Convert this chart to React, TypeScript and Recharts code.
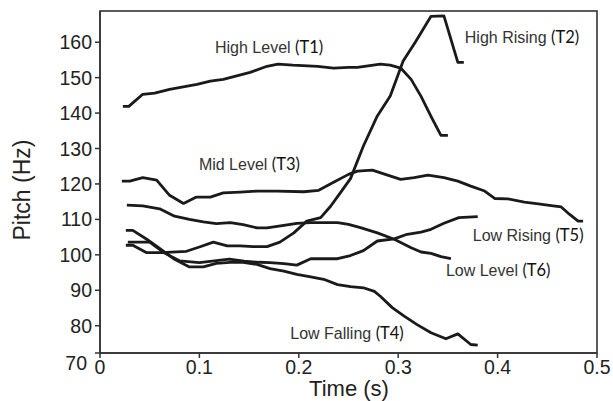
import { LineChart, Line, XAxis, YAxis, ReferenceDot, Label } from 'recharts';

// [time (s), pitch (Hz)]
const highLevelT1 = [
  [0.023, 141.9], [0.029, 141.9], [0.043, 145.3], [0.055, 145.6], [0.07, 146.7], [0.0975, 148.1],
  [0.111, 149.0], [0.124, 149.5], [0.151, 151.5], [0.168, 153.2], [0.179, 153.8], [0.194, 153.5],
  [0.219, 153.2], [0.235, 152.7], [0.25, 152.9], [0.259, 152.9], [0.282, 153.8], [0.292, 153.5],
  [0.3025, 152.7], [0.313, 149.5], [0.323, 144.7], [0.333, 139.1], [0.343, 133.7], [0.35, 133.7],
];

const highRisingT2 = [
  [0.026, 102.7], [0.033, 102.7], [0.047, 100.6], [0.062, 100.6], [0.087, 101.0], [0.1, 102.2],
  [0.114, 103.6], [0.128, 102.5], [0.141, 102.5], [0.154, 102.3], [0.168, 102.3], [0.181, 103.6],
  [0.195, 106.2], [0.208, 109.5], [0.222, 110.5], [0.232, 113.7], [0.241, 117.2], [0.252, 121.5],
  [0.265, 130.7], [0.279, 139.2], [0.292, 144.8], [0.305, 154.7], [0.317, 159.9], [0.333, 167.3],
  [0.346, 167.4], [0.36, 154.3], [0.366, 154.3],
];

const midLevelT3 = [
  [0.022, 120.8], [0.03, 120.8], [0.043, 121.8], [0.057, 121.1], [0.07, 116.8], [0.084, 114.5],
  [0.097, 116.3], [0.111, 116.3], [0.124, 117.5], [0.141, 117.7], [0.158, 118.0], [0.178, 118.0],
  [0.205, 117.8], [0.22, 118.2], [0.235, 120.5], [0.25, 122.7], [0.259, 123.6], [0.274, 123.9],
  [0.287, 122.7], [0.3025, 121.3], [0.316, 121.8], [0.33, 122.5], [0.346, 121.8], [0.36, 120.8],
  [0.373, 119.4], [0.387, 118.0], [0.397, 115.9], [0.41, 115.8], [0.427, 114.9], [0.441, 114.4],
  [0.454, 113.9], [0.464, 113.5], [0.4725, 111.4], [0.481, 109.5], [0.486, 109.5],
];

const lowFallingT4 = [
  [0.026, 106.9], [0.033, 106.9], [0.047, 104.4], [0.06, 101.8], [0.074, 98.9], [0.09, 96.6],
  [0.104, 96.6], [0.117, 97.6], [0.131, 97.9], [0.144, 97.9], [0.158, 97.3], [0.171, 96.1],
  [0.185, 95.4], [0.198, 94.5], [0.212, 93.8], [0.225, 93.1], [0.239, 91.6], [0.252, 91.0],
  [0.265, 90.7], [0.276, 89.7], [0.282, 88.3], [0.294, 85.1], [0.306, 82.7], [0.319, 80.3],
  [0.333, 78.0], [0.348, 76.3], [0.36, 77.7], [0.373, 74.7], [0.38, 74.5],
];

const lowRisingT5 = [
  [0.028, 103.6], [0.05, 103.6], [0.065, 100.5], [0.08, 98.3], [0.1, 97.8], [0.115, 98.3],
  [0.13, 98.8], [0.145, 98.2], [0.16, 97.9], [0.171, 97.8], [0.185, 97.5], [0.198, 97.1],
  [0.212, 98.9], [0.225, 98.9], [0.239, 98.9], [0.252, 99.8], [0.265, 101.2], [0.279, 103.9],
  [0.296, 104.5], [0.309, 105.8], [0.323, 106.4], [0.333, 107.2], [0.346, 108.9], [0.361, 110.5],
  [0.38, 110.8],
];

const lowLevelT6 = [
  [0.027, 114.0], [0.043, 113.8], [0.06, 113.0], [0.075, 110.9], [0.09, 110.0], [0.104, 109.3],
  [0.117, 108.8], [0.131, 109.1], [0.144, 108.5], [0.158, 107.6], [0.168, 107.6], [0.185, 108.3],
  [0.198, 108.9], [0.212, 109.1], [0.225, 109.1], [0.239, 109.1], [0.25, 108.6], [0.262, 107.7],
  [0.279, 106.2], [0.296, 104.4], [0.313, 102.0], [0.323, 100.8], [0.333, 100.4], [0.343, 99.5],
  [0.353, 98.9],
];

const xTicks = [0, 0.1, 0.2, 0.3, 0.4, 0.5];
const yBottom = 72.3;
const yTop = 168.8;
const yTicks = [yBottom, 80, 90, 100, 110, 120, 130, 140, 150, 160];

// tone labels: [name, tag, time, pitch] of the label's left/middle
const toneLabels: [string, string, number, number][] = [
  ['High Level', '(T1)', 0.1157, 158.6],
  ['High Rising', '(T2)', 0.367, 161.4],
  ['Mid Level', '(T3)', 0.0995, 125.5],
  ['Low Falling', '(T4)', 0.1914, 77.8],
  ['Low Rising', '(T5)', 0.375, 105.5],
  ['Low Level', '(T6)', 0.348, 95.6],
];

const series = [highLevelT1, highRisingT2, midLevelT3, lowFallingT4, lowRisingT5, lowLevelT6];

const toPoints = (s: number[][]) => s.map(([t, hz]) => ({ t, hz }));

const axisFont = 'Liberation Sans, Arial, sans-serif';

// chart box: 613x401, plot from x=100 to 597, y=11 to 353
const W = 613;
const H = 401;
const margin = { top: 11, right: 16, left: 0, bottom: 18 };
const yAxisWidth = 100;
const xAxisHeight = 30;
const plotLeft = margin.left + yAxisWidth;
const plotRight = W - margin.right;
const plotTop = margin.top;
const plotBottom = H - margin.bottom - xAxisHeight;

const YTick = (props: any) => {
  const { x, y, payload } = props;
  const isBottom = payload.value < 75;
  return (
    <text x={x - (isBottom ? 5 : 0)} y={y + (isBottom ? 10 : 0)} dy="0.36em" textAnchor="end" fontSize={19.5} fontFamily={axisFont} fill="#222">
      {isBottom ? '70' : payload.value}
    </text>
  );
};

const ToneLabel = (name: string, tag: string) => (props: any) => {
  const { viewBox } = props;
  return (
    <text x={viewBox.x} y={viewBox.y} dy="0.36em" fontSize={16} fontFamily={axisFont} fill="#333">
      {name}{' '}
      <tspan fontFamily="Lato, sans-serif" fontSize={16.5} fill="#111">{tag}</tspan>
    </text>
  );
};

// plot box outline, drawn through a reference dot's label so it sits in the svg
const Frame = () => (
  <rect
    x={plotLeft}
    y={plotTop}
    width={plotRight - plotLeft}
    height={plotBottom - plotTop}
    fill="none"
    stroke="#333"
    strokeWidth={1.6}
  />
);

export default function App() {
  return (
    <div style={{ position: 'absolute', left: 0, top: 0, background: '#fff' }}>
      <LineChart width={W} height={H} margin={margin}>
        <XAxis
          type="number"
          dataKey="t"
          domain={[0, 0.5]}
          ticks={xTicks}
          tickFormatter={(v) => (v === 0 ? '0' : String(v))}
          height={xAxisHeight}
          tickSize={5}
          tickMargin={2}
          stroke="#333"
          strokeWidth={1.5}
          tick={{ fontSize: 19.5, fontFamily: axisFont, fill: '#222' }}
          allowDataOverflow
        >
          <Label
            content={() => (
              <text x={349} y={388} dy="0.36em" textAnchor="middle" fontSize={22} fontFamily={axisFont} fill="#222">
                Time (s)
              </text>
            )}
          />
        </XAxis>
        <YAxis
          type="number"
          domain={[yBottom, yTop]}
          ticks={yTicks}
          width={yAxisWidth}
          tickSize={5}
          tickMargin={3}
          stroke="#333"
          strokeWidth={1.5}
          tick={<YTick />}
          allowDataOverflow
        >
          <Label
            content={() => (
              <text x={22} y={190} dy="0.36em" textAnchor="middle" fontSize={23} fontFamily={axisFont} fill="#222" transform="rotate(-90 22 190)">
                Pitch (Hz)
              </text>
            )}
          />
        </YAxis>
        {series.map((s, i) => (
          <Line
            key={i}
            data={toPoints(s)}
            dataKey="hz"
            type="linear"
            stroke="#1a1a1a"
            strokeWidth={2.8}
            strokeLinejoin="round"
            dot={false}
            isAnimationActive={false}
          />
        ))}
        <ReferenceDot x={0.25} y={120} r={0} fill="none" stroke="none" label={Frame} />
        {toneLabels.map(([name, tag, t, hz]) => (
          <ReferenceDot key={name} x={t} y={hz} r={0} fill="none" stroke="none" label={ToneLabel(name, tag)} />
        ))}
      </LineChart>
    </div>
  );
}
